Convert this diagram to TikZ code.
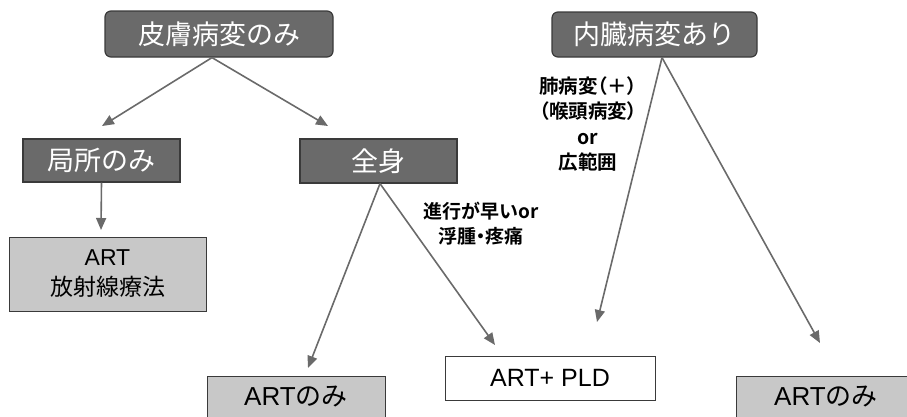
\documentclass[tikz,border=0pt]{standalone}
\usepackage{fontspec}
\newfontfamily\jp{Noto Sans CJK JP}[BoldFont={Noto Sans CJK JP Bold}]
\newfontfamily\jpp{Noto Sans CJK JP}[BoldFont={Noto Sans CJK JP Bold}, RawFeature=+palt]
\newfontfamily\lat{Liberation Sans}
\usetikzlibrary{arrows.meta}
\definecolor{darkbox}{HTML}{6A6A6A}
\definecolor{lightbox}{HTML}{C8C8C8}
\definecolor{arrowgray}{HTML}{6A6A6A}
\definecolor{edgegray}{HTML}{3A3A3A}
\tikzset{
  darkround/.style={draw=edgegray, fill=darkbox, text=white, rounded corners=6pt, line width=1.2pt, inner sep=0pt, font=\jp\fontsize{27}{32}\selectfont},
  darksquare/.style={draw=edgegray, fill=darkbox, text=white, line width=1.2pt, inner sep=0pt, font=\jp\fontsize{27}{32}\selectfont},
  lightbox/.style={draw=edgegray, fill=lightbox, text=black, line width=1pt, inner sep=0pt, font=\jp\fontsize{26}{30}\selectfont},
  whitebox/.style={draw=edgegray, fill=white, text=black, line width=1pt, inner sep=0pt, font=\jp\fontsize{26}{30}\selectfont},
  conn/.style={draw=arrowgray, line width=1.6pt, -{Triangle[length=12pt,width=10pt]}},
  lbl/.style={font=\jp\bfseries\fontsize{19}{25}\selectfont, align=center, inner sep=0pt}
}
\begin{document}
\begin{tikzpicture}[x=1pt,y=-1pt]
\useasboundingbox (0,0) rectangle (907,416);
% top boxes
\node[darkround, minimum width=228pt, minimum height=46pt] (A) at (219,34) {皮膚病変のみ};
\node[darkround, minimum width=205pt, minimum height=45pt] (B) at (654.5,34.5) {内臓病変あり};
% second level
\node[darksquare, minimum width=157pt, minimum height=43pt] (C) at (101.5,160.5) {局所のみ};
\node[darksquare, minimum width=157pt, minimum height=44pt] (D) at (378.5,161) {全身};
% results
\node[lightbox, minimum width=197pt, minimum height=74pt, align=center, font=\jp\fontsize{23}{30}\selectfont] (E) at (107.5,274) {{\lat ART}\\放射線療法};
\node[lightbox, minimum width=178pt, minimum height=44pt] (F) at (296,398) {\raisebox{5pt}{{\lat ART}のみ}};
\node[whitebox, minimum width=210pt, minimum height=44pt, font=\lat\fontsize{25}{30}\selectfont] (G) at (550,378) {ART+ PLD};
\node[lightbox, minimum width=180pt, minimum height=44pt] (H) at (826,398) {\raisebox{5pt}{{\lat ART}のみ}};
% arrow tips
\coordinate (tAC) at (102,126);
\coordinate (tAD) at (328,126);
\coordinate (tCE) at (101,230);
\coordinate (tDF) at (308,368);
\coordinate (tDG) at (495,345);
\coordinate (tBG) at (597,322);
\coordinate (tBH) at (820,343);
% connectors
\draw[conn] ([xshift=-7pt]A.south) -- (tAC);
\draw[conn] ([xshift=-7pt]A.south) -- (tAD);
\draw[conn] (C.south) -- (tCE);
\draw[conn] ([xshift=1.5pt]D.south) -- (tDF);
\draw[conn] ([xshift=1.5pt]D.south) -- (tDG);
\draw[conn] ([xshift=7.5pt]B.south) -- (tBG);
\draw[conn] ([xshift=7.5pt]B.south) -- (tBH);
% labels
\node[lbl] (L1) at (481,224) {進行が早いor\\浮腫{\jpp ・}疼痛};
\node[lbl, font=\jpp\bfseries\fontsize{19.5}{25.5}\selectfont] (L2) at (588,124) {肺病変（＋）\\（喉頭病変）\\or\\広範囲};
\end{tikzpicture}
\end{document}
